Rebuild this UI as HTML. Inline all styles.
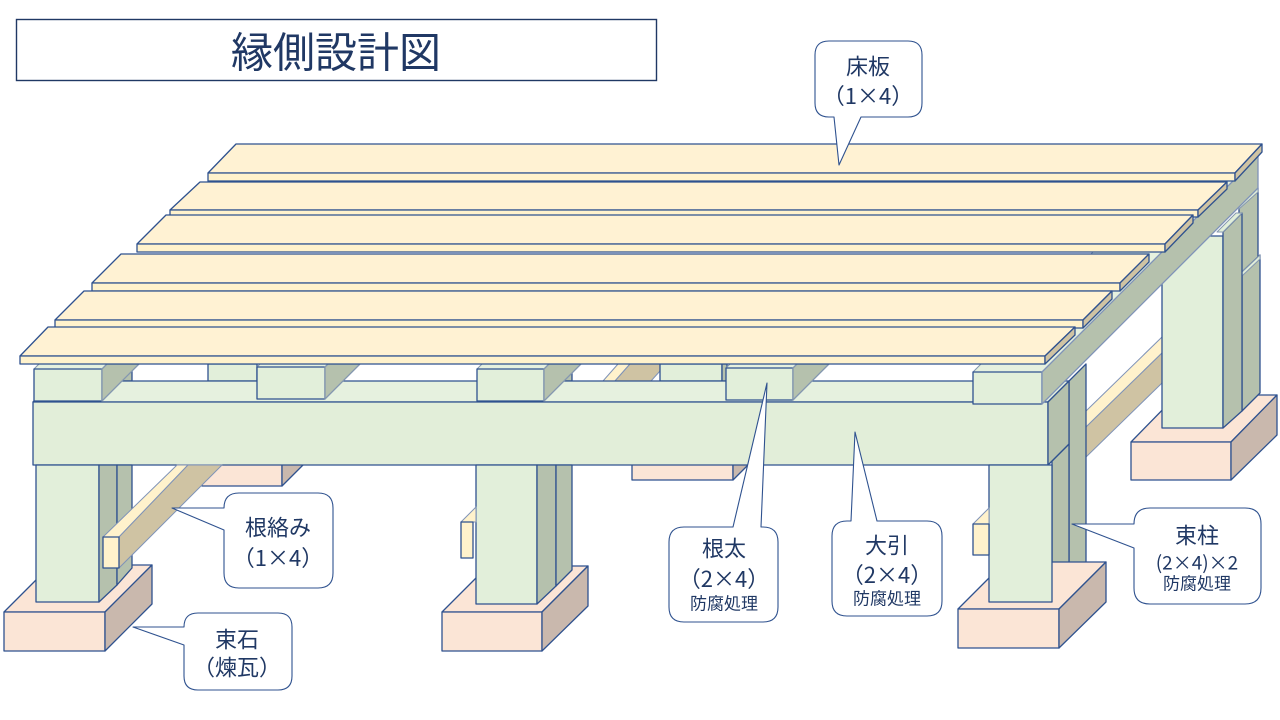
<!DOCTYPE html>
<html><head><meta charset="utf-8">
<style>
html,body{margin:0;padding:0;background:#fff;}
svg{display:block;}
text{font-family:"Liberation Sans","Noto Sans CJK JP",sans-serif;fill:#203864;}
text.j{font-family:"Noto Sans CJK JP","Liberation Sans",sans-serif;}
</style></head>
<body>
<svg width="1280" height="720" viewBox="0 0 1280 720" xmlns="http://www.w3.org/2000/svg">
<rect width="1280" height="720" fill="#fff"/>

<g stroke="#2f528f" stroke-width="1.3" stroke-linejoin="round">
<!-- back bricks -->
<rect x="202" y="450" width="80" height="36" fill="#fbe5d6"/>
<polygon points="282,486 303,465 303,450 282,450" fill="#c9b8ad"/>
<rect x="632" y="450" width="101" height="30" fill="#fbe5d6"/>
<polygon points="733,480 748,465 748,450 733,450" fill="#c9b8ad"/>
<polygon points="1131,442 1177,395 1277,395 1231,442" fill="#fbe5d6"/>
<rect x="1131" y="442" width="100" height="38" fill="#fbe5d6"/>
<polygon points="1231,442 1277,395 1277,435 1231,480" fill="#c9b8ad"/>

<!-- right back brace -->
<polygon points="1085,412 1162,337 1162,353 1085,428" fill="#fff2cc" stroke="#7f93b8" stroke-width="1"/>
<polygon points="1085,428 1162,353 1162,383 1085,458" fill="#cfc3a3" stroke="#7f93b8" stroke-width="1"/>

<!-- middle brace stub behind -->
<polygon points="603,381 618,364 630,364 615,381" fill="#fff2cc" stroke="#7f93b8" stroke-width="1"/>
<polygon points="615,381 630,364 660,364 660,371 651,381" fill="#cfc3a3" stroke="#7f93b8" stroke-width="1"/>

<!-- back right post -->
<polygon points="1239,205 1258,188 1258,262 1239,278" fill="#b5c1ad"/>
<polygon points="1239,205 1258,188 1258,192 1239,209" fill="#e2efda" stroke="#8497b0" stroke-width="1"/>
<polygon points="1242,272 1260,255 1260,393 1242,411" fill="#b5c1ad"/>
<polygon points="1242,272 1260,255 1260,259 1242,276" fill="#e2efda" stroke="#8497b0" stroke-width="1"/>
<rect x="1162" y="236" width="61" height="192" fill="#e2efda"/>
<polygon points="1223,232 1242,213 1242,411 1223,428" fill="#b5c1ad"/>
<polygon points="1217,232 1236,213 1242,213 1223,232" fill="#e2efda" stroke="#8497b0" stroke-width="1"/>

<!-- behind items between joists -->
<rect x="117" y="364" width="15" height="17" fill="#b5c1ad"/>
<rect x="208" y="364" width="49" height="17" fill="#e2efda"/>
<rect x="556" y="364" width="16" height="17" fill="#b5c1ad"/>
<rect x="660" y="364" width="62" height="17" fill="#e2efda"/>
<rect x="722" y="364" width="5" height="17" fill="#b5c1ad"/>

<!-- front right post strip 2 (upper) -->
<polygon points="1069,381 1086,364 1086,568 1069,585" fill="#b5c1ad"/>
<polygon points="1052,461 1069,444 1069,585 1052,602" fill="#b5c1ad"/>

<!-- beam -->
<polygon points="33,402 54,381 1069,381 1048,402" fill="#e6f1df"/>
<rect x="33" y="402" width="1015" height="63" fill="#e2eed9"/>
<polygon points="1048,402 1069,381 1069,444 1048,465" fill="#b5c1ad"/>

<!-- front bricks -->
<polygon points="4,612 51,565 152,565 105,612" fill="#fbe5d6"/>
<rect x="4" y="612" width="101" height="39" fill="#fbe5d6"/>
<polygon points="105,612 152,565 152,604 105,651" fill="#c9b8ad"/>

<polygon points="442,612 488,566 588,566 542,612" fill="#fbe5d6"/>
<rect x="442" y="612" width="100" height="39" fill="#fbe5d6"/>
<polygon points="542,612 588,566 588,606 542,651" fill="#c9b8ad"/>

<polygon points="958,609 1005,562 1106,562 1059,609" fill="#fbe5d6"/>
<rect x="958" y="609" width="101" height="39" fill="#fbe5d6"/>
<polygon points="1059,609 1106,562 1106,602 1059,648" fill="#c9b8ad"/>

<!-- posts -->
<rect x="36" y="465" width="63" height="137" fill="#e2efda"/>
<polygon points="99,465 117,465 117,585 99,602" fill="#b5c1ad"/>
<polygon points="117,465 132,465 132,568 117,585" fill="#b5c1ad"/>

<rect x="476" y="465" width="61" height="139" fill="#e2efda"/>
<polygon points="537,465 556,465 556,586 537,604" fill="#b5c1ad"/>
<polygon points="556,465 572,465 572,570 556,586" fill="#b5c1ad"/>

<rect x="989" y="465" width="63" height="137" fill="#e2efda"/>

<!-- braces front -->
<polygon points="103,537 177,465 188,465 119,537" fill="#fff2cc" stroke="#7f93b8" stroke-width="1"/>
<polygon points="119,537 188,465 222,465 119,568" fill="#cfc3a3" stroke="#7f93b8" stroke-width="1"/>
<rect x="103" y="537" width="16" height="31" fill="#fff2cc"/>

<polygon points="461,522 476,507 476,522" fill="#fff2cc" stroke="#7f93b8" stroke-width="1"/>
<rect x="461" y="522" width="12" height="36" fill="#fff2cc"/>

<polygon points="973,524 989,508 989,524" fill="#fff2cc" stroke="#7f93b8" stroke-width="1"/>
<rect x="973" y="524" width="16" height="31" fill="#fff2cc"/>

<!-- joists -->
<polygon points="34,369 39,364 107,364 102,369" fill="#e6f1df" stroke="#8497b0" stroke-width="1"/>
<rect x="34" y="369" width="68" height="32" fill="#e2efda"/>
<polygon points="102,369 107,364 139,364 102,401" fill="#b5c1ad" stroke="#8497b0"/>

<polygon points="257,367 260,364 328,364 325,367" fill="#e6f1df" stroke="#8497b0" stroke-width="1"/>
<rect x="257" y="367" width="68" height="32" fill="#e2efda"/>
<polygon points="325,367 328,364 360,364 325,399" fill="#b5c1ad" stroke="#8497b0"/>

<polygon points="477,369 482,364 549,364 544,369" fill="#e6f1df" stroke="#8497b0" stroke-width="1"/>
<rect x="477" y="369" width="67" height="32" fill="#e2efda"/>
<polygon points="544,369 549,364 581,364 544,401" fill="#b5c1ad" stroke="#8497b0"/>

<polygon points="726,368 730,364 797,364 793,368" fill="#e6f1df" stroke="#8497b0" stroke-width="1"/>
<rect x="726" y="368" width="67" height="32" fill="#e2efda"/>
<polygon points="793,368 797,364 829,364 793,400" fill="#b5c1ad" stroke="#8497b0"/>

<!-- right joist -->
<polygon points="973,372 1189,156 1258,156 1042,372" fill="#e6f1df" stroke="#8497b0" stroke-width="1"/>
<rect x="973" y="372" width="69" height="32" fill="#e2efda"/>
<polygon points="1042,372 1258,156 1258,188 1042,404" fill="#b5c1ad" stroke="#7f93b8"/>

<!-- boards -->
<polygon points="236,144 1262,144 1235,173 208,173" fill="#fff2d3"/>
<rect x="208" y="173" width="1027" height="8" fill="#fff2cc"/>
<polygon points="1235,173 1262,144 1262,152 1235,181" fill="#cfc3a3"/>

<polygon points="200,182 1227,182 1198,210 170,210" fill="#fff2d3"/>
<rect x="170" y="210" width="1028" height="7" fill="#fff2cc"/>
<polygon points="1198,210 1227,182 1227,189 1198,217" fill="#cfc3a3"/>

<polygon points="166,215 1193,215 1165,244 137,244" fill="#fff2d3"/>
<rect x="137" y="244" width="1028" height="8" fill="#fff2cc"/>
<polygon points="1165,244 1193,215 1193,223 1165,252" fill="#cfc3a3"/>

<polygon points="121,254 1149,254 1120,283 92,283" fill="#fff2d3"/>
<rect x="92" y="283" width="1028" height="8" fill="#fff2cc"/>
<polygon points="1120,283 1149,254 1149,262 1120,291" fill="#cfc3a3"/>

<polygon points="84,291 1112,291 1083,320 55,320" fill="#fff2d3"/>
<rect x="55" y="320" width="1028" height="8" fill="#fff2cc"/>
<polygon points="1083,320 1112,291 1112,299 1083,328" fill="#cfc3a3"/>

<polygon points="48,327 1075,327 1045,356 20,356" fill="#fff2d3"/>
<rect x="20" y="356" width="1025" height="8" fill="#fff2cc"/>
<polygon points="1045,356 1075,327 1075,335 1045,364" fill="#cfc3a3"/>
</g>

<!-- title -->
<rect x="16.5" y="19.5" width="640" height="61" fill="none" stroke="#203864" stroke-width="1.4"/>
<text x="336" y="53" font-size="42" text-anchor="middle" dominant-baseline="central">縁側設計図</text>

<!-- callouts -->
<g fill="#fff" stroke="#2f528f" stroke-width="1.1" stroke-linejoin="round">
<path d="M829,41 H908 Q922,41 922,55 V103 Q922,117 908,117 H861 L839,165 L834,117 H829 Q815,117 815,103 V55 Q815,41 829,41 Z"/>
<path d="M239,493 H318 Q333,493 333,508 V573 Q333,588 318,588 H239 Q224,588 224,573 V530 L172,508 L224,508 Q224,493 239,493 Z"/>
<path d="M198,613 H278 Q292,613 292,627 V676 Q292,690 278,690 H198 Q184,690 184,676 V645 L133,627 L184,627 Q184,613 198,613 Z"/>
<path d="M684,527 H733 L767,383 L761,527 H763 Q778,527 778,542 V607 Q778,622 763,622 H684 Q669,622 669,607 V542 Q669,527 684,527 Z"/>
<path d="M847,521 H851 L855,432 L877,521 H927 Q942,521 942,536 V601 Q942,616 927,616 H847 Q832,616 832,601 V536 Q832,521 847,521 Z"/>
<path d="M1150,508 H1245 Q1261,508 1261,524 V588 Q1261,604 1245,604 H1150 Q1134,604 1134,588 V548 L1072,524 L1134,524 Q1134,508 1150,508 Z"/>
</g>

<g text-anchor="middle" dominant-baseline="central">
<text x="868" y="67" font-size="22">床板</text>
<text class="j" x="868" y="95" font-size="22">（1×4）</text>

<text x="278" y="528" font-size="22">根絡み</text>
<text class="j" x="278" y="557" font-size="22">（1×4）</text>

<text x="237" y="640" font-size="22">束石</text>
<text x="237" y="668" font-size="22">（煉瓦）</text>

<text x="724" y="549" font-size="22">根太</text>
<text class="j" x="724" y="578" font-size="22">（2×4）</text>
<text x="724" y="604" font-size="17">防腐処理</text>

<text x="887" y="546" font-size="22">大引</text>
<text class="j" x="887" y="574" font-size="22">（2×4）</text>
<text x="887" y="599" font-size="17">防腐処理</text>

<text x="1197" y="536" font-size="22">束柱</text>
<text class="j" x="1197" y="562" font-size="19">(2×4)×2</text>
<text x="1197" y="584" font-size="17">防腐処理</text>
</g>
</svg>
</body></html>
